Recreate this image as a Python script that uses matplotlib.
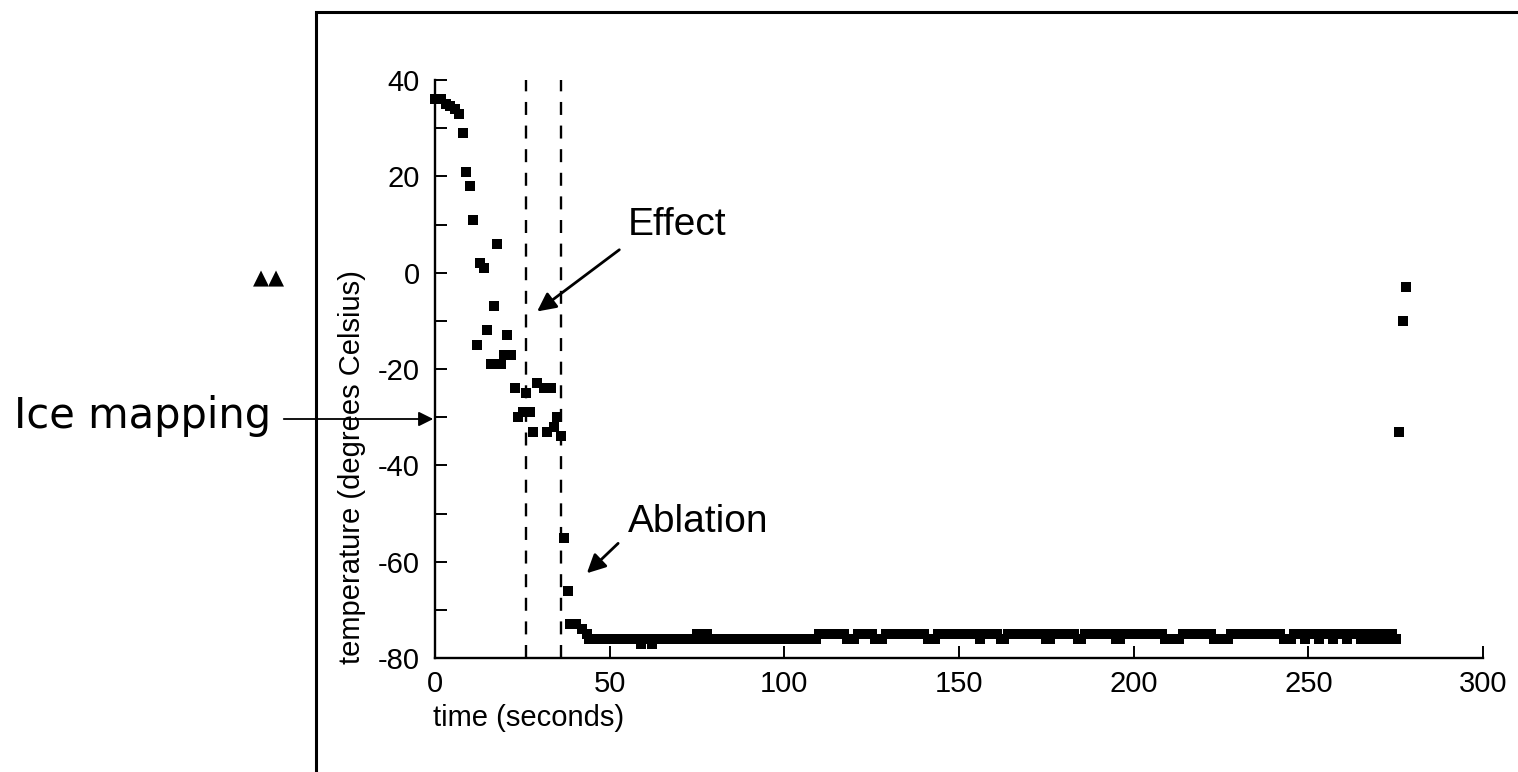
import numpy as np
import matplotlib.pyplot as plt
from matplotlib.patches import Rectangle

plt.rcParams['font.family'] = ['Liberation Sans', 'DejaVu Sans']
plt.rcParams['axes.unicode_minus'] = False

# cooling phase (time s, temperature C)
early_time = [0, 1.7, 3.2, 4.3, 5.7, 7, 8, 9, 10, 11, 17.8, 13, 14, 16.9, 14.8,
              20.6, 11.9, 19.8, 21.7, 15.9, 18.9, 22.9, 26, 29.3, 31.2, 33.1,
              25.3, 27.2, 23.9, 34.9, 28, 32, 34, 36, 37, 38.2, 38.7, 40.5, 42, 43.4]
early_temp = [36, 36, 35, 34.5, 34, 33, 29, 21, 18, 11, 6, 2, 1, -7, -12,
              -13, -15, -17, -17, -19, -19, -24, -25, -23, -24, -24,
              -29, -29, -30, -30, -33, -33, -32, -34, -55, -66, -73, -73, -74, -75]

# plateau: one reading per second, -76 before ~110 s, -75 after, with the odd step
plateau_time = list(range(44, 276))
plateau_down = [59, 62]                       # -77
plateau_up = [75, 78]                         # -75 before 110 s
plateau_dips = [118, 119, 120, 126, 127, 128, 141, 142, 143, 156, 162, 163,
                175, 176, 184, 185, 195, 196, 209, 210, 211, 212, 213,
                223, 224, 225, 226, 227, 243, 244, 245, 249, 253, 257,
                261, 265, 267, 269, 271, 273, 275]   # -76 after 110 s
plateau_temp = []
for t in plateau_time:
    if t < 110:
        plateau_temp.append(-77 if t in plateau_down else -75 if t in plateau_up else -76)
    else:
        plateau_temp.append(-76 if t in plateau_dips else -75)

# warm-up at the end
late_time = [276, 277, 278]
late_temp = [-33, -10, -3]

event_lines = [26, 36]

fig = plt.figure(figsize=(15.18, 7.72), dpi=100)
ax = fig.add_axes([435 / 1518, 114 / 772, 1048 / 1518, 578 / 772])

for t, y in [(early_time, early_temp), (plateau_time, plateau_temp), (late_time, late_temp)]:
    ax.plot(t, y, 's', color='black', ms=6.5, mew=0, clip_on=False)

for x in event_lines:
    ax.axvline(x, color='black', lw=1.7, ls=(0, (5.5, 4.5)))

ax.set_xlim(0, 300)
ax.set_ylim(-80, 40)
ax.set_xticks(np.arange(0, 301, 50))
ax.set_yticks(np.arange(-80, 41, 20))
ax.set_yticks(np.arange(-70, 40, 20), minor=True)
ax.tick_params(which='both', direction='in', length=8.5, width=1.4, labelsize=21)
ax.tick_params(axis='y', pad=11)
ax.tick_params(axis='x', pad=9)
for s in ['top', 'right']:
    ax.spines[s].set_visible(False)
for s in ['left', 'bottom']:
    ax.spines[s].set_linewidth(1.7)

fig.text(352 / 1518, 1 - 467 / 772, 'temperature (degrees Celsius)', rotation=90,
         ha='center', va='center', fontsize=21)
fig.text(433 / 1518, 1 - 718 / 772, 'time (seconds)', ha='left', va='center', fontsize=21)

# annotations
ax.text(55.3, 7.8, 'Effect', fontsize=28, ha='left', va='baseline')
ax.annotate('', xy=(28.6, -8.4), xytext=(53.4, 5.1),
            arrowprops=dict(arrowstyle='-|>', lw=2, color='black', mutation_scale=28))
ax.text(55.3, -53.8, 'Ablation', fontsize=28, ha='left', va='baseline')
ax.annotate('', xy=(42.9, -62.8), xytext=(53, -55.8),
            arrowprops=dict(arrowstyle='-|>', lw=2, color='black', mutation_scale=28))

fig.text(14 / 1518, 1 - 428 / 772, 'Ice mapping', fontsize=30, ha='left', va='baseline',
         family='DejaVu Sans')
ax.annotate('', xy=(436, 772 - 419), xytext=(281, 772 - 419),
            xycoords='figure pixels', textcoords='figure pixels',
            arrowprops=dict(arrowstyle='-|>', lw=1.3, color='black', mutation_scale=22))
fig.text(253 / 1518, 1 - 278 / 772, '\u25b2\u25b2', fontsize=15, ha='left', va='center',
         family='DejaVu Sans')

# frame round the slide
fig.add_artist(Rectangle((316 / 1518, -0.05), 1.0, 1 - 11.5 / 772 + 0.05,
                         transform=fig.transFigure, fill=False, lw=2.2, ec='black'))

fig.savefig('out.png', dpi=100)
